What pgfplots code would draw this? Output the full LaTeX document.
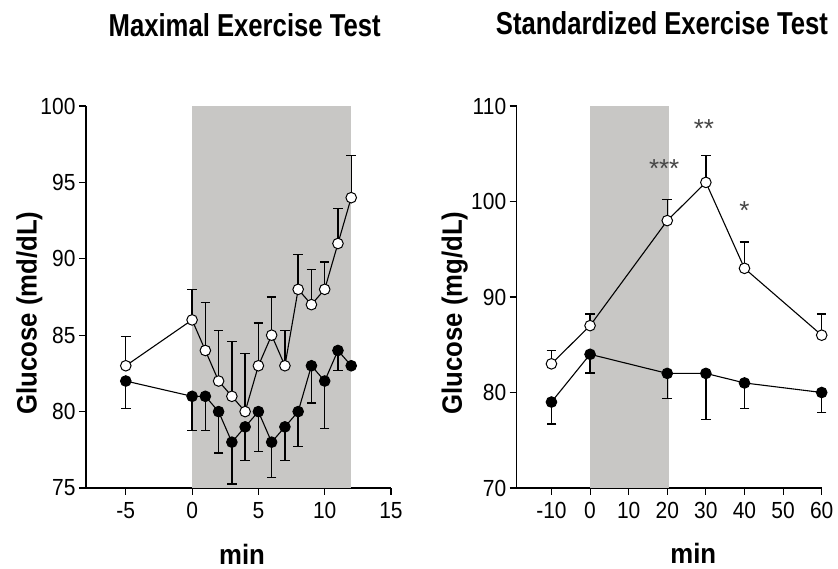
\documentclass[border=0pt]{standalone}
\usepackage{pgfplots}
\pgfplotsset{compat=1.18}
\usepackage{fontspec}
\setmainfont{Liberation Sans}
\newfontfamily\tickf{Liberation Sans}[FakeStretch=0.9]
\newfontfamily\labf{Liberation Sans}[FakeStretch=0.92]
\newfontfamily\titf{Liberation Sans}[FakeStretch=0.81]
\definecolor{shade}{RGB}{200,199,197}
\definecolor{stargray}{RGB}{70,70,70}
\newcommand{\tickfont}{\tickf\fontsize{23.3}{23.3}\selectfont}
\newcommand{\labfont}{\labf\fontsize{28}{28}\selectfont\bfseries}
\newcommand{\titfont}{\titf\fontsize{31.7}{31.7}\selectfont\bfseries}
\newcommand{\starfont}{\fontsize{26}{26}\selectfont}

\pgfplotstableread{
x y e
-5 83 1.9
0 86 2.0
1 84 3.15
2 82 3.3
3 81 3.6
4 80 3.8
5 83 2.8
6 85 2.5
7 83 2.3
8 88 2.3
9 87 2.3
10 88 1.8
11 91 2.3
12 94 2.75
}\leftopen
\pgfplotstableread{
x y e
-5 82 1.8
0 81 2.25
1 81 2.25
2 80 2.7
3 78 2.75
4 79 2.2
5 80 2.6
6 78 2.3
7 79 2.2
8 80 2.3
9 83 2.45
10 82 3.1
11 84 1.3
12 83 0
}\leftfilled
\pgfplotstableread{
x y e
-10 83 1.4
0 87 1.2
20 98 2.2
30 102 2.8
40 93 2.75
60 86 2.2
}\rightopen
\pgfplotstableread{
x y e
-10 79 2.3
0 84 1.95
20 82 2.6
30 82 4.8
40 81 2.7
60 80 2.1
}\rightfilled

\pgfplotsset{
  base/.style={
    scale only axis,
    width=305pt, height=382pt,
    axis lines=left,
    axis line style={black, line width=1.3pt, -},
    tick style={black, line width=1.1pt},
    tick align=outside,
    major tick length=7pt,
    xtick pos=bottom, ytick pos=left,
    /pgf/number format/assume math mode=true,
    ticklabel style={font=\tickfont},
    xticklabel style={anchor=base, yshift=-24pt},
    label style={font=\labfont},
    clip=false,
  },
  openline/.style={black, line width=1.1pt, mark=*, mark size=5.3pt,
    mark options={fill=white, draw=black, line width=1pt},
    error bars/.cd, y dir=plus, y explicit,
    error bar style={black, line width=1.4pt},
    error mark options={black, line width=1.4pt, mark size=4.8pt, rotate=90}},
  filledline/.style={black, line width=1.1pt, mark=*, mark size=5.3pt,
    mark options={fill=black, draw=black, line width=1pt},
    error bars/.cd, y dir=minus, y explicit,
    error bar style={black, line width=1.4pt},
    error mark options={black, line width=1.4pt, mark size=4.8pt, rotate=90}},
}

\begin{document}
\begin{tikzpicture}[x=1pt,y=1pt]
\useasboundingbox (0,0) rectangle (838,569);

\node[font=\titfont, anchor=base] at (244.7,532.3) {Maximal Exercise Test};
\node[font=\titfont, anchor=base] at (662,534) {Standardized Exercise Test};

\begin{axis}[base,
  at={(86pt,81pt)}, anchor=south west,
  xmin=-8, xmax=15, ymin=75, ymax=100,
  xtick={-5,0,5,10,15}, ytick={75,80,85,90,95,100},
  xlabel={min}, ylabel={Glucose (md/dL)},
  xlabel style={at={(axis description cs:0.5115,-0.199)}, anchor=base},
  ylabel style={at={(axis description cs:-0.1616,0.458)}, anchor=base},
]
\addplot[fill=shade, draw=none] coordinates {(0,75) (12,75) (12,100) (0,100)} -- cycle;
\addplot[filledline] table[x=x, y=y, y error=e] {\leftfilled};
\addplot[openline] table[x=x, y=y, y error=e] {\leftopen};
\end{axis}

\begin{axis}[base,
  at={(516.7pt,81pt)}, anchor=south west,
  xmin=-19, xmax=60, ymin=70, ymax=110,
  xtick={-10,0,10,20,30,40,50,60}, ytick={70,80,90,100,110},
  xlabel={min}, ylabel={Glucose (mg/dL)},
  xlabel style={at={(axis description cs:0.579,-0.197)}, anchor=base},
  ylabel style={at={(axis description cs:-0.1797,0.458)}, anchor=base},
]
\addplot[fill=shade, draw=none] coordinates {(0,70) (20.5,70) (20.5,110) (0,110)} -- cycle;
\addplot[filledline] table[x=x, y=y, y error=e] {\rightfilled};
\addplot[openline] table[x=x, y=y, y error=e] {\rightopen};
\node[font=\starfont, text=stargray, anchor=base] at (axis cs:19.2,102.5) {***};
\node[font=\starfont, text=stargray, anchor=base] at (axis cs:29.5,106.75) {**};
\node[font=\starfont, text=stargray, anchor=base] at (axis cs:40,98.15) {*};
\end{axis}
\end{tikzpicture}
\end{document}
